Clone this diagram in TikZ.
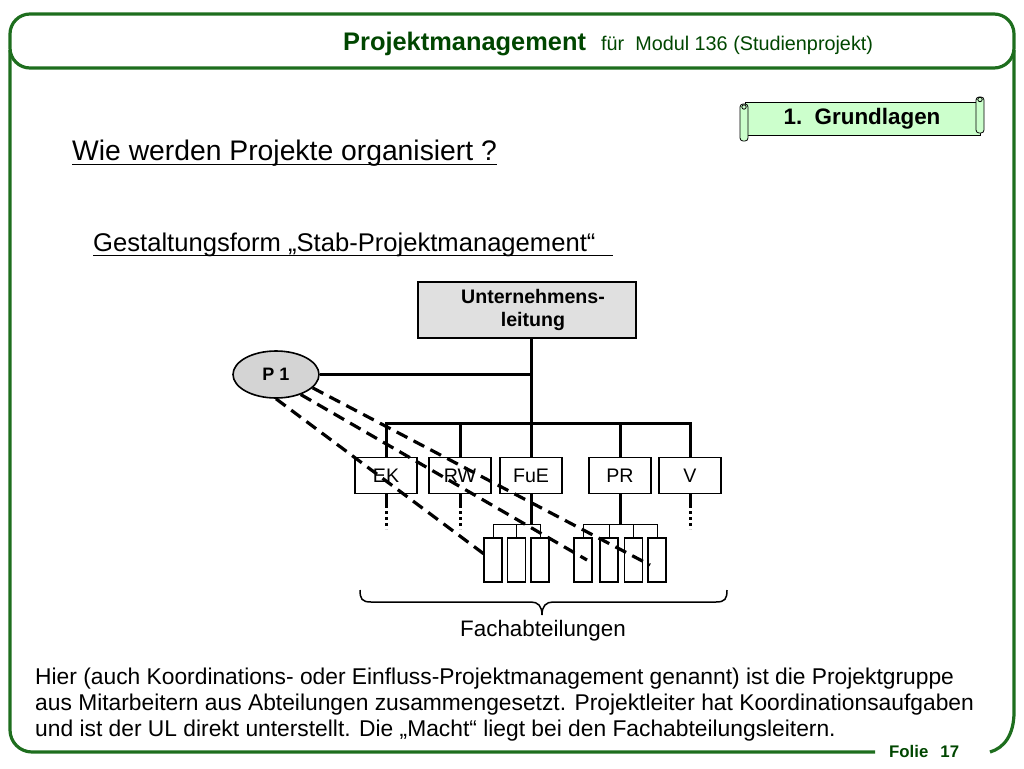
\documentclass[tikz,border=0pt]{standalone}
\usepackage{fontspec}
\setmainfont{Liberation Sans}
\usetikzlibrary{shapes.geometric,calc}
\definecolor{framegreen}{RGB}{30,110,30}
\definecolor{titlegreen}{RGB}{0,70,0}
\definecolor{scrollgreen}{RGB}{204,255,204}
\definecolor{boxgray}{RGB}{224,224,224}
\definecolor{ellgray}{RGB}{212,212,212}
\newcommand{\fsz}[2]{\fontsize{#1}{#2}\selectfont}
\begin{document}
\begin{tikzpicture}[x=1pt,y=-1pt,
  frame/.style={draw=framegreen, line width=3.2pt},
  orgline/.style={line width=3pt},
  unitbox/.style={draw, line width=1.6pt, minimum width=62pt, minimum height=36pt, inner sep=0pt, font=\fsz{19.6}{22}},
  smallbox/.style={draw, line width=1.8pt, minimum width=18pt, minimum height=44pt, inner sep=0pt},
  thinline/.style={line width=0.9pt},
  dashline/.style={line width=3.2pt, dash pattern=on 12pt off 7pt},
  dotline/.style={line width=3pt, dash pattern=on 3pt off 3pt},
  txt/.style={anchor=base west, inner sep=0pt}]
\path[use as bounding box] (0,0) rectangle (1024,768);
% frame
\draw[frame, rounded corners=20pt] (10,14) rectangle (1014,68);
\draw[frame, rounded corners=22pt] (10,50) -- (10,752) -- (875,752);
\draw[frame] (1014,50) -- (1014,712) .. controls (1014,735) and (1004,748) .. (990,752);
% title
\node[txt, font=\bfseries\fsz{25.4}{30}, text=titlegreen] (title) at (343,51) {Projektmanagement};
\node[txt, font=\fsz{19.8}{24}, text=titlegreen] (sub) at (601,51) {für\ \ Modul 136 (Studienprojekt)};
% scroll
\draw[line width=0.8pt, fill=scrollgreen] (745,102) rectangle (980,135);
\draw[line width=0.8pt, fill=scrollgreen, rounded corners=3pt] (740,104) rectangle (748,141);
\draw[line width=0.8pt] (744,107) circle (2.2pt);
\draw[line width=0.8pt, fill=scrollgreen, rounded corners=3pt] (976,97) rectangle (984,133);
\draw[line width=0.8pt] (980,99.5) circle (2.2pt);
\node[font=\bfseries\fsz{22.4}{26}] (gl) at (862,119) {1.\ \ Grundlagen};
% headings
\node[txt, font=\fsz{28.3}{32}] (h1) at (72,160) {Wie werden Projekte organisiert ?};
\draw[line width=1.4pt] ([yshift=-4.5pt]h1.base west) -- ([yshift=-4.5pt]h1.base east);
\node[txt, font=\fsz{25.6}{30}] (h2) at (93,251) {Gestaltungsform „Stab-Projektmanagement“};
\draw[line width=1.4pt] ([yshift=-4.3pt]h2.base west) -- ++(520,0);
% org chart
\node[draw, fill=boxgray, line width=1.6pt, minimum width=218pt, minimum height=56pt, align=center, font=\bfseries\fsz{19.6}{23}] (ul) at (527,310) {\hspace*{12pt}Unternehmens-\\\hspace*{12pt}leitung};
\node[ellipse, draw, fill=ellgray, line width=1.6pt, minimum width=86pt, minimum height=47pt, inner sep=0pt, font=\bfseries\fsz{18}{20}] (pone) at (276,374.5) {P 1};
\node[unitbox] (ek) at (386,475.5) {EK};
\node[unitbox] (rw) at (460,475.5) {RW};
\node[unitbox] (fue) at (531,475.5) {FuE};
\node[unitbox] (pr) at (620,475.5) {PR};
\node[unitbox] (v) at (690,475.5) {V};
\coordinate (jt) at (531,423);
\draw[orgline] (ul.south -| jt) -- (jt);
\draw[orgline] (pone.east) -- (pone.east -| jt);
\draw[orgline] (ek.north) -- (ek.north |- jt) -- (v.north |- jt) -- (v.north);
\draw[orgline] (rw.north |- jt) -- (rw.north);
\draw[orgline] (jt) -- (fue.north);
\draw[orgline] (pr.north |- jt) -- (pr.north);
% continuation marks
\foreach \b in {ek,rw,v}{
  \draw[orgline] (\b.south) -- ++(0,14);
  \draw[dotline] ([yshift=-17pt]\b.south) -- ++(0,18);
}
% small units
\node[smallbox] (f1) at (493,560) {};
\node[smallbox] (f2) at (516.5,560) {};
\node[smallbox] (f3) at (540,560) {};
\node[smallbox] (q1) at (583,560) {};
\node[smallbox] (q2) at (609,560) {};
\node[smallbox] (q3) at (633.5,560) {};
\node[smallbox] (q4) at (657,560) {};
\draw[orgline] (fue.south) -- ++(0,30) coordinate (fj);
\draw[thinline] (f1.north) -- (f1.north |- fj) -- (f3.north |- fj) -- (f3.north);
\draw[thinline] (f2.north) -- (f2.north |- fj);
\draw[orgline] (pr.south) -- ++(0,30) coordinate (pj);
\draw[thinline] (q1.north) -- (q1.north |- pj) -- (q4.north |- pj) -- (q4.north);
\draw[thinline] (q2.north) -- (q2.north |- pj);
\draw[thinline] (q3.north) -- (q3.north |- pj);
% dashed staff links
\draw[dashline] (pone.south) -- ([shift={(-5pt,3pt)}]f1.center);
\draw[dashline] (pone.-39) -- ([shift={(4pt,0pt)}]q1.center);
\draw[dashline] (pone.-20) -- ([shift={(-7pt,-5pt)}]q4.center);
% brace
\draw[line width=1.5pt] (360,590) .. controls (360,599) and (362,602) .. (371,602) -- (531,602)
  .. controls (538,602) and (542,606) .. (542,615)
  .. controls (542,606) and (546,602) .. (553,602) -- (716,602)
  .. controls (725,602) and (727,599) .. (727,590);
\node[font=\fsz{22.4}{26}] (fach) at (543,631) {Fachabteilungen};
% body text
\node[txt, font=\fsz{22.8}{26}] (b1) at (35,684) {Hier (auch Koordinations- oder Einfluss-Projektmanagement genannt) ist die Projektgruppe};
\node[txt, font=\fsz{22.8}{26}] (b2) at (35,710) {aus Mitarbeitern aus Abteilungen zusammengesetzt. Projektleiter hat Koordinationsaufgaben};
\node[txt, font=\fsz{22.8}{26}] (b3) at (35,736) {und ist der UL direkt unterstellt. Die „Macht“ liegt bei den Fachabteilungsleitern.};
\node[txt, font=\bfseries\fsz{16.8}{20}, text=titlegreen] (folie) at (889,757) {Folie\hspace{12pt}17};
\end{tikzpicture}
\end{document}
